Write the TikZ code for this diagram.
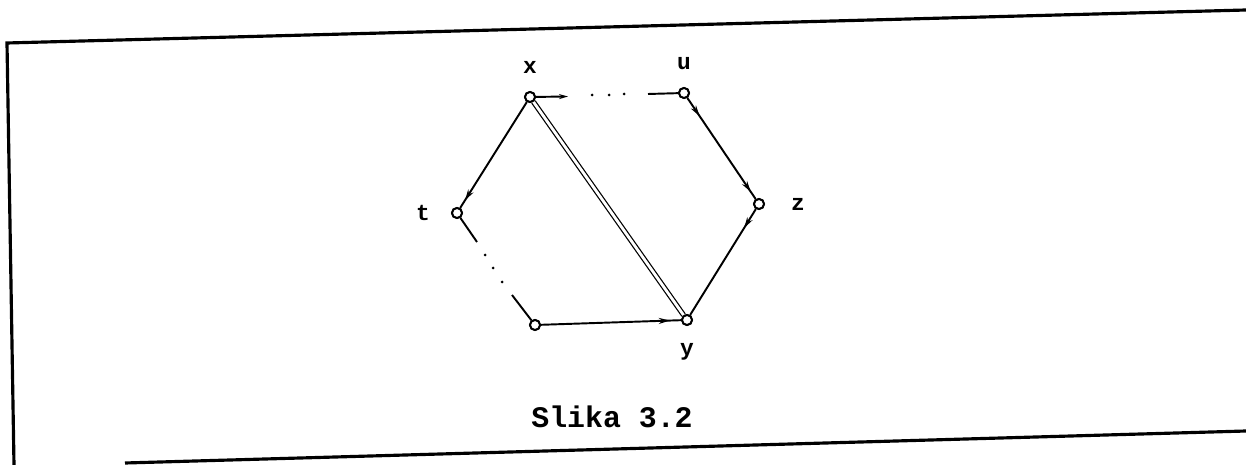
\documentclass[tikz,border=0pt]{standalone}
\usepackage{fontspec}
\setmonofont{Liberation Mono}
\usetikzlibrary{arrows.meta,decorations.markings}
\begin{document}
\begin{tikzpicture}[
        vertex/.style={circle, draw, fill=white, line width=1.1pt, inner sep=0pt, minimum size=0.2cm},
        every label/.style={font=\ttfamily\bfseries\fontsize{13}{14}\selectfont, label distance=0.22cm},
        edge/.style={line width=1.1pt},
        tip/.style={postaction={decorate, decoration={markings,
            mark=at position #1 with {\arrow{Stealth[length=0.22cm, width=0.12cm]}}}}},
        frame/.style={line width=1.8pt},
        dotmark/.style={fill=black}
    ]
    \useasboundingbox (0,0) rectangle (24.92,9.30);
    % frame of the scanned page
    \coordinate (fTL) at (0.14,8.44);
    \coordinate (fTR) at (24.92,9.10);
    \coordinate (fBL) at (0.28,0);
    \coordinate (fB1) at (2.50,0.04);
    \coordinate (fB2) at (24.92,0.68);
    \draw[frame] (fBL) -- (fTL) -- (fTR);
    \draw[frame] (fB1) -- (fB2);
    % vertices
    \node[vertex, label=above:x] (x) at (10.60,7.36) {};
    \node[vertex, label=above:u] (u) at (13.68,7.44) {};
    \node[vertex, label={[label distance=0.4cm]right:z}] (z) at (15.18,5.22) {};
    \node[vertex, label=below:y] (y) at (13.74,2.90) {};
    \node[vertex] (w) at (10.70,2.80) {};
    \node[vertex, label={[label distance=0.3cm]left:t}] (t) at (9.14,5.04) {};
    % ends of the broken paths
    \coordinate (xa) at (11.36,7.37);
    \coordinate (ub) at (12.96,7.42);
    \coordinate (ta) at (9.54,4.46);
    \coordinate (wb) at (10.24,3.40);
    % edges
    \draw[edge, -{Stealth[length=0.18cm, width=0.1cm]}] (x) -- (xa);
    \draw[edge] (ub) -- (u);
    \draw[edge, tip=0.93] (x) -- (t);
    \draw[edge] (t) -- (ta);
    \draw[edge] (wb) -- (w);
    \draw[edge, tip=0.92] (w) -- (y);
    \draw[edge, tip=0.18, tip=0.93] (u) -- (z);
    \draw[edge, tip=0.18] (z) -- (y);
    \draw[line width=0.7pt, double, double distance=1.6pt] (x) -- (y);
    % dots
    \foreach \px/\py in {11.84/7.40, 12.18/7.40, 12.48/7.42, 9.70/4.20, 9.86/3.94, 10.04/3.66}
        \fill[dotmark] (\px,\py) circle (0.03);
    % redraw vertices on top
    \foreach \v in {x,u,z,y,w,t}
        \node[vertex] at (\v) {};
    \node[font=\ttfamily\bfseries\fontsize{17}{19}\selectfont] (caption) at (12.24,0.96) {Slika 3.2};
\end{tikzpicture}
\end{document}
